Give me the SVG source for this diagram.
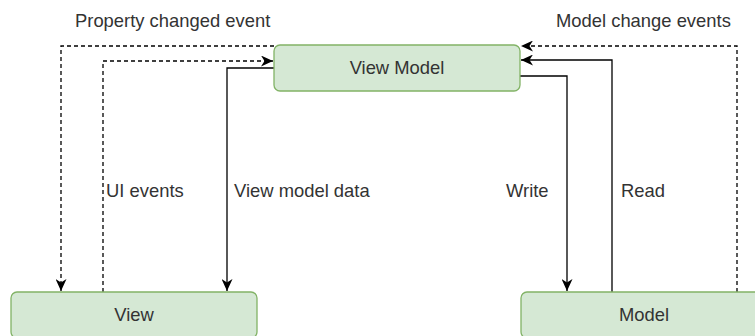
<svg xmlns="http://www.w3.org/2000/svg" width="755" height="336" viewBox="0 0 755 336">
  <style>
    .node rect { fill: #d5e8d4; stroke: #82b366; stroke-width: 1.3; }
    .node text, .label { font-family: "Liberation Sans", Arial, sans-serif; font-size: 18.4px; fill: #333333; }
    .node text { text-anchor: middle; }
    .edge { fill: none; stroke: #000000; stroke-width: 1.3; }
    .dashed { stroke-dasharray: 4 3; }
  </style>
  <defs>
    <marker id="arrow" markerUnits="userSpaceOnUse" markerWidth="13" markerHeight="11" refX="12" refY="5.5" orient="auto">
      <path d="M0,0 L12,5.5 L0,11 L3.5,5.5 Z" fill="#000000"/>
    </marker>
  </defs>

  <rect width="755" height="336" fill="#ffffff"/>

  <g id="connectors">
    <!-- Property changed event: View Model -> View -->
    <path class="edge dashed" d="M274,46 H61 V291" marker-end="url(#arrow)"/>
    <!-- UI events: View -> View Model -->
    <path class="edge dashed" d="M103,292 V61 H273" marker-end="url(#arrow)"/>
    <!-- View model data: View Model -> View -->
    <path class="edge" d="M274,68 H227 V291" marker-end="url(#arrow)"/>
    <!-- Write: View Model -> Model -->
    <path class="edge" d="M520,76 H567 V291" marker-end="url(#arrow)"/>
    <!-- Read: Model -> View Model -->
    <path class="edge" d="M612,292 V60 H521" marker-end="url(#arrow)"/>
    <!-- Model change events: Model -> View Model -->
    <path class="edge dashed" d="M737,292 V46 H521" marker-end="url(#arrow)"/>
  </g>

  <g id="labels">
    <text class="label" x="75" y="27">Property changed event</text>
    <text class="label" x="556" y="27">Model change events</text>
    <text class="label" x="106" y="197">UI events</text>
    <text class="label" x="234" y="197">View model data</text>
    <text class="label" x="506" y="197">Write</text>
    <text class="label" x="621" y="197">Read</text>
  </g>

  <g id="view-model" class="node">
    <rect x="274" y="45" width="246" height="46" rx="6" ry="6"/>
    <text x="397" y="74">View Model</text>
  </g>

  <g id="view" class="node">
    <rect x="11" y="292" width="246" height="46" rx="6" ry="6"/>
    <text x="134" y="321">View</text>
  </g>

  <g id="model" class="node">
    <rect x="521" y="292" width="246" height="46" rx="6" ry="6"/>
    <text x="644" y="321">Model</text>
  </g>
</svg>
